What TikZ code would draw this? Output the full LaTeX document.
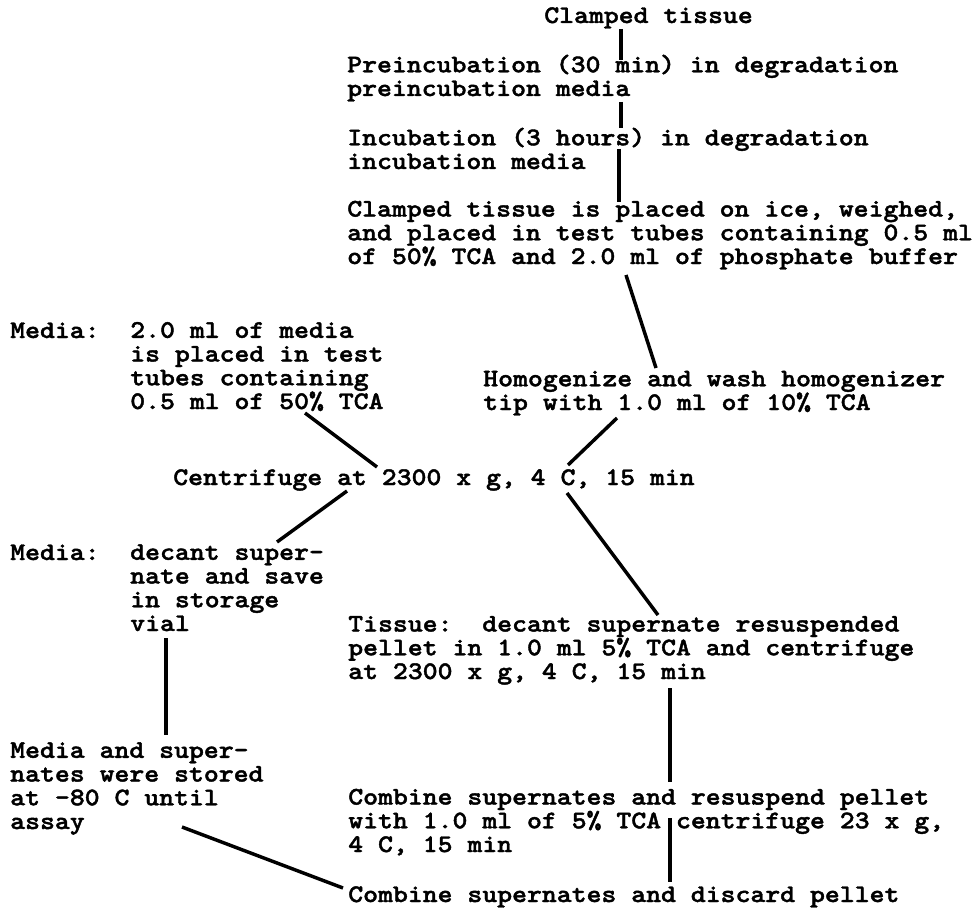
\documentclass[tikz,border=0pt]{standalone}
\usepackage{fontspec}
\usepackage{tikz}
\usetikzlibrary{calc}
\newfontfamily\typefont{lmmonolt10-bold.otf}[FakeStretch=1.12,FakeBold=1.6]

\tikzset{
  txt/.style={anchor=base west, inner sep=0pt, align=left,
    font=\typefont\fontsize{19pt}{17.8pt}\selectfont\frenchspacing},
  link/.style={line width=2.6pt}
}

\begin{document}
\begin{tikzpicture}[x=0.75pt,y=-0.75pt]
\useasboundingbox (0,0) rectangle (973,909);

% tissue column (nodes sit on the baseline of their last line)
\node[txt] (top) at (544,23) {Clamped tissue};
\node[txt] (preinc) at (347,96) {Preincubation (30 min) in degradation\\preincubation media};
\node[txt] (incub) at (347,169) {Incubation (3 hours) in degradation\\incubation media};
\node[txt] (placed) at (347,264) {Clamped tissue is placed on ice, weighed,\\and placed in test tubes containing 0.5 ml\\of 50\% TCA and 2.0 ml of phosphate buffer};
\node[txt] (homog) at (483,410) {Homogenize and wash homogenizer\\tip with 1.0 ml of 10\% TCA};

% media column
\node[txt] (mlabA) at (10,338) {Media:};
\node[txt] (mediaA) at (130,409) {2.0 ml of media\\is placed in test\\tubes containing\\0.5 ml of 50\% TCA};

\node[txt] (centr) at (173,485) {Centrifuge at 2300 x g, 4 C, 15 min};

\node[txt] (mlabB) at (10,560) {Media:};
\node[txt] (mediaB) at (130,631) {decant super-\\nate and save\\in storage\\vial};
\node[txt] (tissue) at (348,679) {Tissue:\ \ decant supernate resuspended\\pellet in 1.0 ml 5\% TCA and centrifuge\\at 2300 x g, 4 C, 15 min};

\node[txt] (mediaC) at (10,829) {Media and super-\\nates were stored\\at -80 C until\\assay};
\node[txt] (comb1) at (348,852) {Combine supernates and resuspend pellet\\with 1.0 ml of 5\% TCA centrifuge 23 x g,\\4 C, 15 min};
\node[txt] (comb2) at (348,902) {Combine supernates and discard pellet};

% connectors
\draw[link] ($(top.base west)+(77,6)$) -- ($(preinc.base west)+(274,-36)$);
\draw[link] ($(preinc.base west)+(274,6)$) -- ($(incub.base west)+(274,-41)$);
\draw[link] ($(incub.base west)+(272,-20)$) -- ($(placed.base west)+(272,-62)$);
\draw[link] ($(placed.base west)+(279,11)$) -- ($(homog.base west)+(173,-42)$);
\draw[link] ($(mediaA.base west)+(175,4)$) -- ($(centr.base west)+(204,-18)$);
\draw[link] ($(homog.base west)+(134,8)$) -- ($(centr.base west)+(395,-20)$);
\draw[link] ($(centr.base west)+(174,6)$) -- ($(mediaB.base west)+(147,-89)$);
\draw[link] ($(centr.base west)+(394,8)$) -- ($(tissue.base west)+(310,-64)$);
\draw[link] ($(mediaB.base west)+(36,7)$) -- ($(mediaC.base west)+(156,-94)$);
\draw[link] ($(tissue.base west)+(322,9)$) -- ($(comb1.base west)+(322,-70)$);
\draw[link] ($(comb1.base west)+(322,-34)$) -- ($(comb2.base west)+(322,-20)$);
\draw[link] ($(mediaC.base west)+(172,-2)$) -- ($(comb2.base west)+(-5,-14)$);

\end{tikzpicture}
\end{document}
